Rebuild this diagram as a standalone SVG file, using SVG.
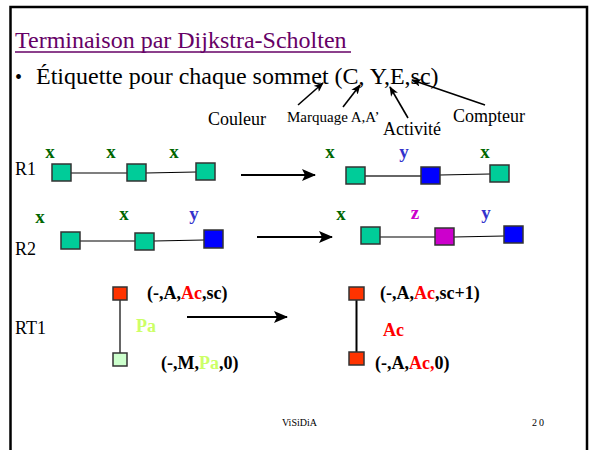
<svg xmlns="http://www.w3.org/2000/svg" width="591" height="450" viewBox="0 0 591 450">
<style>
text{font-family:"Liberation Serif","Times New Roman",serif;fill:#000}
.lbl{font-size:19px;font-weight:bold;text-anchor:middle}
.gx{fill:#006600}.by{fill:#3333cc}.mz{fill:#cc00cc}
.t18{font-size:18px}
.b18{font-size:18px;font-weight:bold}
.red{fill:#ff0000}.pa{fill:#ccff66}
.sq{stroke:#333;stroke-width:1.5}
.g{fill:#00cc99}.bl{fill:#0000ff}.mg{fill:#cc00cc}.rd{fill:#ff3300}.lg{fill:#ccffcc}
.ln{stroke:#000;stroke-width:1.2;fill:none}
.ar{stroke:#000;stroke-width:2;fill:none}
.sa{stroke:#000;stroke-width:1.6;fill:none}
</style>
<defs>
<marker id="big" markerWidth="14" markerHeight="12" refX="13" refY="6" orient="auto" markerUnits="userSpaceOnUse"><path d="M0,0 L14,6 L0,12 L3,6 Z" fill="#000"/></marker>
<marker id="sm" markerWidth="10" markerHeight="8" refX="9" refY="4" orient="auto" markerUnits="userSpaceOnUse"><path d="M0,0 L10,4 L0,8 L2.5,4 Z" fill="#000"/></marker>
</defs>
<rect width="591" height="450" fill="#fff"/>
<path d="M10.5,450 V7 H587 V450" fill="none" stroke="#000" stroke-width="2.5"/>
<g id="title">
<text x="15" y="48" font-size="24" style="fill:#660066">Terminaison par Dijkstra-Scholten</text>
<line x1="15" y1="52" x2="351" y2="52" stroke="#660066" stroke-width="1.5"/>
</g>
<g id="bullet">
<text x="15" y="84" font-size="20">•</text>
<text x="36" y="84" font-size="24">Étiquette pour chaque sommet (C, Y,E,sc)</text>
</g>
<g id="legend">
<text x="208" y="125" class="t18">Couleur</text>
<text x="287" y="122" font-size="15">Marquage A,A’</text>
<text x="383" y="135" class="t18">Activité</text>
<text x="453" y="122" class="t18">Compteur</text>
</g>
<g id="row-labels">
<text x="15" y="175" class="t18">R1</text>
<text x="15" y="255" class="t18">R2</text>
<text x="15" y="334" class="t18">RT1</text>
</g>
<g id="connectors">
<line class="sa" x1="298" y1="105" x2="323" y2="83" marker-end="url(#sm)"/>
<line class="sa" x1="343" y1="107" x2="360" y2="85" marker-end="url(#sm)"/>
<line class="sa" x1="408" y1="118" x2="390" y2="87" marker-end="url(#sm)"/>
<line class="sa" x1="485" y1="105" x2="412" y2="80" marker-end="url(#sm)"/>
<line class="ln" x1="71" y1="173" x2="127" y2="173"/>
<line class="ln" x1="146" y1="173" x2="196" y2="172"/>
<line x1="365" y1="176" x2="421" y2="176" stroke="#666" stroke-width="2"/>
<line class="ln" x1="440" y1="175" x2="490" y2="174"/>
<line class="ln" x1="80" y1="241" x2="135" y2="241"/>
<line class="ln" x1="154" y1="241" x2="204" y2="240"/>
<line class="ln" x1="380" y1="237" x2="435" y2="237"/>
<line class="ln" x1="454" y1="237" x2="504" y2="236"/>
<line x1="120" y1="300" x2="120" y2="353" stroke="#666" stroke-width="2"/>
<line x1="356.5" y1="300" x2="356.5" y2="352" stroke="#000" stroke-width="2"/>
<line class="ar" x1="241" y1="175" x2="315" y2="175" marker-end="url(#big)"/>
<line class="ar" x1="257" y1="237" x2="332" y2="237" marker-end="url(#big)"/>
<line class="ar" x1="187" y1="317" x2="287" y2="317" marker-end="url(#big)"/>
</g>
<g id="r1-left">
<g id="r1l-a"><rect class="sq g" x="52" y="164" width="19" height="17"/><text class="lbl gx" x="50" y="158">x</text></g>
<g id="r1l-b"><rect class="sq g" x="127" y="164" width="19" height="17"/><text class="lbl gx" x="111" y="158">x</text></g>
<g id="r1l-c"><rect class="sq g" x="196" y="163" width="19" height="17"/><text class="lbl gx" x="174" y="158">x</text></g>
</g>
<g id="r1-right">
<g id="r1r-a"><rect class="sq g" x="346" y="167" width="19" height="17"/><text class="lbl gx" x="330" y="158">x</text></g>
<g id="r1r-b"><rect class="sq bl" x="421" y="167" width="19" height="17"/><text class="lbl by" x="404" y="158">y</text></g>
<g id="r1r-c"><rect class="sq g" x="490" y="165" width="19" height="17"/><text class="lbl gx" x="485" y="158">x</text></g>
</g>
<g id="r2-left">
<g id="r2l-a"><rect class="sq g" x="61" y="232" width="19" height="17"/><text class="lbl gx" x="40" y="223">x</text></g>
<g id="r2l-b"><rect class="sq g" x="135" y="233" width="19" height="17"/><text class="lbl gx" x="124" y="220">x</text></g>
<g id="r2l-c"><rect class="sq bl" x="204" y="230" width="19" height="18"/><text class="lbl by" x="194" y="220">y</text></g>
</g>
<g id="r2-right">
<g id="r2r-a"><rect class="sq g" x="361" y="227" width="19" height="17"/><text class="lbl gx" x="341" y="220">x</text></g>
<g id="r2r-b"><rect class="sq mg" x="435" y="228" width="19" height="17"/><text class="lbl mz" x="415" y="219">z</text></g>
<g id="r2r-c"><rect class="sq bl" x="504" y="226" width="19" height="17"/><text class="lbl by" x="486" y="219">y</text></g>
</g>
<g id="rt1-left">
<g id="rt1l-top"><rect class="sq rd" x="113" y="287" width="14" height="13"/><text class="b18" x="147" y="299">(-,A,<tspan class="red">Ac</tspan>,sc)</text></g>
<text class="b18 pa" x="136" y="332">Pa</text>
<g id="rt1l-bot"><rect class="sq lg" x="113" y="353" width="14" height="13"/><text class="b18" x="161" y="369">(-,M,<tspan class="pa">Pa</tspan>,0)</text></g>
</g>
<g id="rt1-right">
<g id="rt1r-top"><rect class="sq rd" x="349" y="287" width="15" height="13"/><text class="b18" x="380" y="299">(-,A,<tspan class="red">Ac</tspan>,sc+1)</text></g>
<text class="b18 red" x="383" y="336">Ac</text>
<g id="rt1r-bot"><rect class="sq rd" x="349" y="352" width="15" height="13"/><text class="b18" x="375" y="369">(-,A,<tspan class="red">Ac,</tspan>0)</text></g>
</g>
<g id="footer">
<text x="282" y="426" font-size="10">ViSiDiA</text>
<text x="532" y="426" font-size="10" letter-spacing="2">20</text>
</g>
</svg>
